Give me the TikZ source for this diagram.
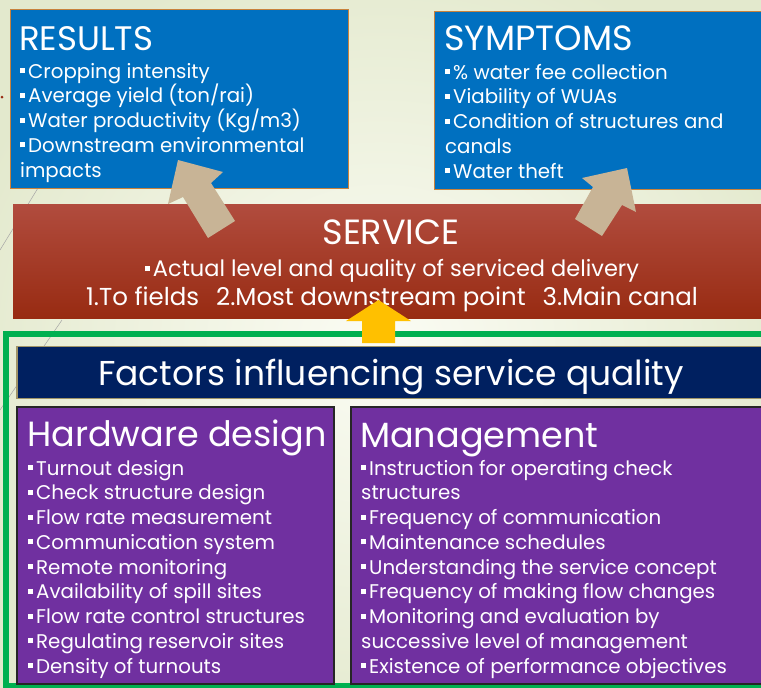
\documentclass[tikz,border=0pt]{standalone}
\usepackage{fontspec}
\setmainfont{Poppins}
\newcommand\sqb{\rule[5pt]{5pt}{5pt}\hspace{3pt}}
\newcommand\fsz[1]{\fontsize{#1}{#1}\selectfont}
\definecolor{bgin}{HTML}{FBFCF4}
\definecolor{bgout}{HTML}{E3E9CD}
\definecolor{resblue}{HTML}{0070C0}
\definecolor{boxedge}{HTML}{C8823C}
\definecolor{srvtop}{HTML}{B14C3E}
\definecolor{srvbot}{HTML}{982B12}
\definecolor{navy}{HTML}{002060}
\definecolor{navyedge}{HTML}{A09468}
\definecolor{purp}{HTML}{7030A0}
\definecolor{frame}{HTML}{00B050}
\definecolor{tan}{HTML}{C8B496}
\definecolor{gold}{HTML}{FFC000}
\begin{document}
\begin{tikzpicture}[x=1pt,y=-1pt,
  body/.style={text=white, inner sep=0pt, anchor=base west, font=\fsz{19.8}},
  head/.style={text=white, inner sep=0pt, anchor=base west, font=\fsz{35}},
  mid/.style={text=white, inner sep=0pt, anchor=base},
  bluebox/.style={fill=resblue, draw=boxedge, line width=1pt},
  purpbox/.style={fill=purp, draw=black!85, line width=1.2pt}]

% page background
\useasboundingbox (0,0) rectangle (761,688);
\shade[inner color=bgin, outer color=bgout] (-60,-60) rectangle (821,748);
\draw[black!35, line width=0.5pt] (0,250) -- (38,188);
\draw[black!35, line width=0.5pt] (0,410) -- (62,320);
\fill[srvbot] (2,97) circle (1.5);

% upper panels
\path[bluebox] (10,9.5) rectangle (348,188);
\path[bluebox] (434,11) rectangle (768,189);

\node[head, font=\fsz{34}] (results) at (19,50) {RESULTS};
\foreach \t [count=\i] in {\sqb Cropping intensity, \sqb Average yield (ton/rai),
    \sqb Water productivity (Kg/m3), \sqb Downstream environmental, impacts}
  \node[body] (res-\i) at (20,{78+24.75*(\i-1)}) {\t};

\node[head] (symptoms) at (444,50) {SYMPTOMS};
\foreach \t [count=\i] in {\sqb\% water fee collection, \sqb Viability of WUAs,
    \sqb Condition of structures and, canals, \sqb Water theft}
  \node[body] (sym-\i) at (445,{79+24.75*(\i-1)}) {\t};

% service band
\shade[top color=srvtop, bottom color=srvbot] (13,204) rectangle (768,318);
\node[mid, font=\fsz{35}] (service) at (391,244) {SERVICE};
\node[mid, font=\fsz{22.5}] (srv-1) at (392,276) {\sqb Actual level and quality of serviced delivery};
\node[mid, font=\fsz{24.5}] (srv-2) at (392,305)
  {1.To fields\hspace{17pt}2.Most downstream point\hspace{17pt}3.Main canal};

% factors frame
\draw[frame, line width=6pt] (6,333.5) rectangle (775,685.5);
\path[fill=navy, draw=navyedge, line width=1.2pt] (17,346.5) rectangle (768,398.5);
\node[mid, font=\fsz{34.5}] (factors) at (391,385) {Factors influencing service quality};

\path[purpbox] (17,407) rectangle (334,684);
\path[purpbox] (351,407) rectangle (768,684);

\node[head] (hardware) at (27,446) {Hardware design};
\foreach \t [count=\i] in {\sqb Turnout design, \sqb Check structure design,
    \sqb Flow rate measurement, \sqb Communication system, \sqb Remote monitoring,
    \sqb Availability of spill sites, \sqb Flow rate control structures,
    \sqb Regulating reservoir sites, \sqb Density of turnouts}
  \node[body] (hw-\i) at (28,{475+24.75*(\i-1)}) {\t};

\node[head] (management) at (360,447) {Management};
\foreach \t [count=\i] in {\sqb Instruction for operating check, structures,
    \sqb Frequency of communication, \sqb Maintenance schedules,
    \sqb Understanding the service concept, \sqb Frequency of making flow changes,
    \sqb Monitoring and evaluation by, successive level of management,
    \sqb Existence of performance objectives}
  \node[body] (mg-\i) at (361,{475+24.75*(\i-1)}) {\t};

% block arrows
\fill[tan] (178,160) -- (223,172) -- (211,183) -- (235,221) -- (208,238)
  -- (183,197) -- (168,204) -- cycle;
\fill[tan] (627,168) -- (636,212) -- (622,205) -- (602,236) -- (575,219)
  -- (593,187) -- (582,178) -- cycle;
\fill[gold] (378.5,300) -- (411,321) -- (395,321) -- (395,343) -- (362,343)
  -- (362,321) -- (346,321) -- cycle;
\end{tikzpicture}
\end{document}
